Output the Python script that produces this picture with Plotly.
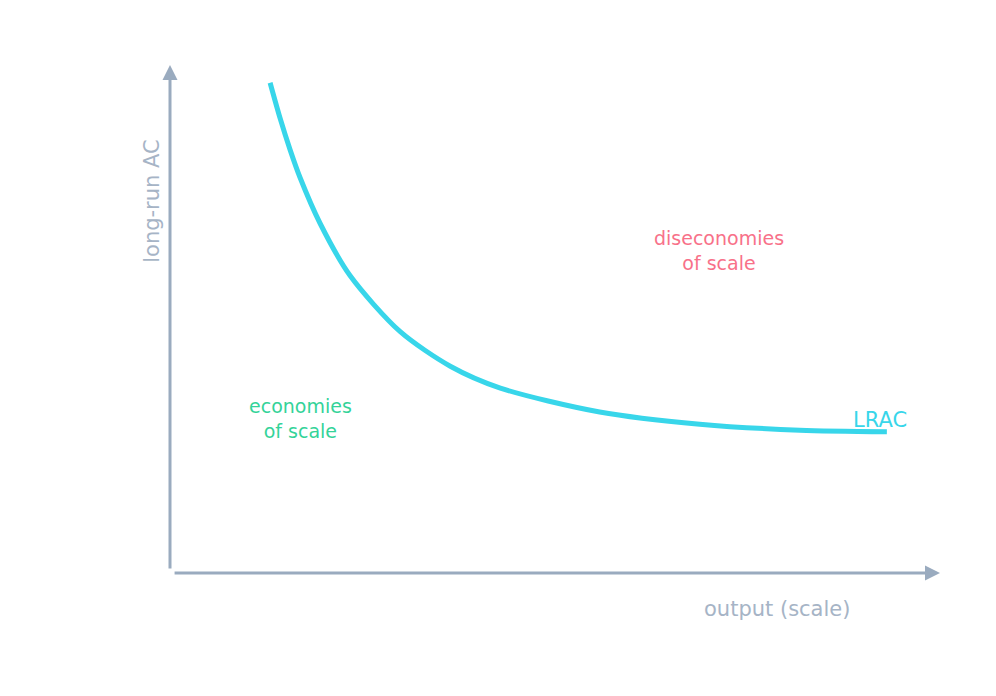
import plotly.graph_objects as go

# LRAC curve (output, average cost), axes 0..100
output = [13.0, 14.3, 15.6, 16.9, 19.5, 23.4, 29.9, 36.4, 42.9, 55.8, 68.8, 81.8, 93.1]
lrac = [96.5, 89.5, 83.3, 77.8, 68.8, 58.5, 47.5, 40.7, 36.4, 31.7, 29.3, 28.1, 27.8]

axis_col = "#9aabbf"
font = "DejaVu Sans"

fig = go.Figure()
fig.add_trace(go.Scatter(x=output, y=lrac, mode="lines",
                         line=dict(color="#38d6ea", width=5, shape="spline", smoothing=0.8),
                         hoverinfo="skip"))

# hand-drawn axes with arrows
fig.add_annotation(x=0, y=100, ax=0, ay=0.6, xref="x", yref="y", axref="x", ayref="y",
                   showarrow=True, arrowhead=2, arrowsize=1, arrowwidth=3,
                   arrowcolor=axis_col, text="")
fig.add_annotation(x=100, y=0, ax=0.4, ay=0, xref="x", yref="y", axref="x", ayref="y",
                   showarrow=True, arrowhead=2, arrowsize=1, arrowwidth=3,
                   arrowcolor=axis_col, text="")

fig.add_annotation(x=-0.042, y=0.858, xref="paper", yref="paper", text="long-run AC",
                   textangle=-90, showarrow=False,
                   font=dict(family=font, size=21, color="#a6b4c6"))
fig.add_annotation(x=0.886, y=-0.098, xref="paper", yref="paper", text="output (scale)",
                   showarrow=False, font=dict(family=font, size=21, color="#a6b4c6"))
fig.add_annotation(x=92.2, y=30.1, text="LRAC", showarrow=False,
                   font=dict(family=font, size=21, color="#38d6ea"))
fig.add_annotation(x=16.9, y=30.5, text="economies<br>of scale", showarrow=False,
                   font=dict(family=font, size=19, color="#34d399"))
fig.add_annotation(x=71.3, y=63.4, text="diseconomies<br>of scale", showarrow=False,
                   font=dict(family=font, size=19, color="#f87189"))

fig.update_xaxes(range=[0, 100], visible=False)
fig.update_yaxes(range=[0, 100], visible=False)
fig.update_layout(width=996, height=696, showlegend=False,
                  margin=dict(l=162, r=64, t=57, b=131),
                  plot_bgcolor="white", paper_bgcolor="white")
fig.write_html("out.html")
